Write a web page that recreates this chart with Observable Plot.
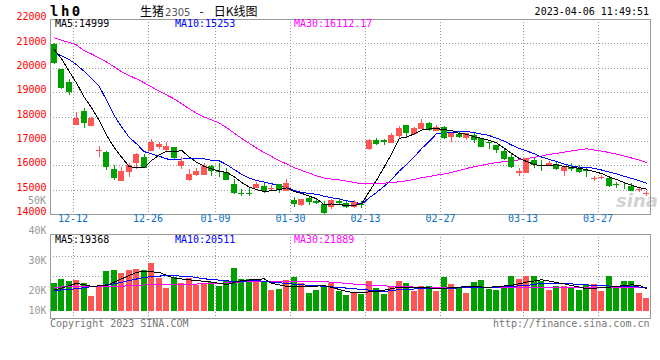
<!DOCTYPE html>
<html><head><meta charset="utf-8">
<script src="https://cdn.jsdelivr.net/npm/d3@7"></script>
<script src="https://cdn.jsdelivr.net/npm/@observablehq/plot@0.6"></script>
<style>
html,body{margin:0;padding:0;background:#fff;}
#wrap{position:relative;width:660px;height:360px;overflow:hidden;font-family:"DejaVu Sans Mono",monospace;}
#wrap svg{position:absolute;left:0;top:0;}
#wrap svg rect,#wrap svg line,#wrap svg path{shape-rendering:crispEdges;}
.t{position:absolute;white-space:pre;line-height:1;}
</style></head><body><div id="wrap"></div>
<script>
// ---- price data (index = trading day, oldest first) ----
const open  = [20980,19950,19430,17650,18240,17620,16600,16550,15830,15370,15740,16080,16340,16600,16740,16630,16740,15970,15400,15600,15600,15970,15750,15710,15230,14870,14850,15080,15160,15030,15230,14960,14570,14370,14640,14540,14410,14300,14530,14440,14270,14420,16670,17030,17020,16930,17200,17650,17280,17490,17720,17420,17580,17170,17270,17130,17240,17100,16960,16830,16580,16350,15700,15700,16210,15990,16010,16050,15760,15910,15900,15810,15450,15490,15460,15240,15160,15160,14980,14840];
const high  = [21000,19960,19530,18200,18360,17960,16800,16580,16010,15920,16100,16520,16460,17070,16970,16940,16750,16350,15830,15900,16100,15990,16100,15900,15420,15010,15120,15310,15280,15190,15240,15440,14680,14620,14750,14670,14530,14600,14640,14530,14570,14550,17060,17130,17080,17310,17610,17660,17580,17890,17780,17650,17600,17330,17400,17330,17330,17110,16970,16850,16650,16460,15870,16310,16280,16210,16170,16150,15960,16080,16010,15870,15560,15600,15530,15300,15260,15260,15080,14950];
const low   = [20150,19130,18880,17640,17540,17610,16350,15800,15400,15360,15530,15830,15890,16590,16650,16560,16240,15830,15350,15570,15590,15560,15530,15390,14830,14750,14750,15070,14880,14940,14850,14950,14290,14340,14370,14410,14000,14190,14410,14260,14260,14260,16620,16830,16830,16920,17110,17170,17230,17480,17400,17410,17080,16970,17100,17040,16920,16750,16650,16520,16220,15900,15560,15690,15900,15780,15970,15820,15560,15760,15700,15510,15370,15440,15090,15080,15010,14930,14890,14740];
const close = [20180,19180,19020,17950,17750,17930,16640,15910,15490,15760,16010,16460,15900,16970,16860,16800,16310,16190,15640,15760,15970,15780,15720,15400,14850,14810,14830,15220,14950,15080,14990,15260,14410,14600,14490,14470,14030,14570,14470,14300,14500,14380,17040,16870,16960,17240,17520,17310,17520,17750,17450,17580,17110,17310,17170,17310,17040,16760,16920,16630,16260,15940,15760,16280,16010,15960,16080,15850,15940,15860,15740,15770,15490,15530,15160,15200,15140,14960,15010,14860];
const ma5   = [20770,20380,19870,19375,18816,18366,17858,17236,16744,16346,15962,15926,15924,16220,16440,16598,16568,16626,16360,16140,15974,15868,15774,15726,15544,15312,15122,15022,14932,14978,15014,15100,14938,14868,14750,14646,14400,14432,14406,14368,14374,14444,14938,15418,15950,16498,17126,17180,17310,17468,17510,17522,17482,17440,17324,17296,17188,17118,17040,16932,16722,16502,16302,16174,16050,15990,16018,16036,15968,15938,15894,15832,15760,15678,15542,15434,15308,15202,15098,15038];
const ma10  = [20627,20512,20360,20134,19867,19580,19252,18677,18062,17581,17164,16892,16580,16482,16393,16280,16247,16275,16290,16290,16286,16218,16200,16043,15842,15643,15495,15398,15329,15261,15163,15111,14980,14900,14864,14830,14750,14685,14637,14559,14510,14422,14685,14912,15159,15436,15785,16059,16364,16709,17004,17324,17331,17375,17396,17403,17355,17300,17240,17128,17009,16845,16710,16607,16491,16356,16260,16169,16071,15994,15942,15925,15898,15823,15738,15662,15568,15479,15386,15286];
const ma30  = [21250,21150,21060,20950,20720,20580,20420,20250,20060,19850,19700,19560,19400,19230,19060,18900,18740,18540,18340,18150,18000,17880,17750,17560,17340,17120,16920,16720,16540,16377,16204,16074,15920,15808,15700,15584,15497,15453,15419,15370,15320,15250,15288,15285,15288,15303,15343,15381,15443,15510,15559,15619,15665,15729,15806,15890,15963,16015,16080,16132,16174,16197,16242,16298,16349,16398,16467,16509,16558,16610,16652,16698,16646,16602,16542,16474,16394,16316,16232,16136];
// ---- volume (K, as read against the panel's labels) ----
const volume = [22.4,23.8,23.1,23.3,22.4,17.2,21.3,26.4,26.8,25.8,26.8,27.1,26.8,29.1,24.1,20.8,24.4,22.4,24.1,21.8,22.4,22.8,21.4,23.1,27.4,23.8,23.8,23.4,23.1,20.1,20.4,23.4,24.4,22.4,18.7,20.1,21.1,22.4,19.7,17.6,18.7,18.2,23.1,20.8,18.2,21.4,23.1,22.4,19.7,21.4,21.4,19.7,24.4,22.1,20.8,18.7,22.8,23.4,20.4,20.1,21.4,24.8,23.8,24.8,24.8,23.1,20.1,21.4,21.4,21.1,20.1,21.9,21.9,19.7,24.8,21.4,23.1,23.1,18.7,16.3];
const volMa5Idx  = [0,1,3,5,7,9,11,12,14,15,16,19,21,23,25,28,29,31,34,36,39,40,43,46,49,51,55,58,61,63,65,68,71,74,77,78,79];
const volMa5     = [20.2,20.8,22.4,21.4,21.7,23.9,26.1,26.3,26.1,25.0,24.1,23.3,22.8,22.0,23.3,23.9,22.4,21.4,21.2,21.7,19.5,18.9,19.5,21.1,21.1,20.6,21.3,21.1,21.7,22.8,23.6,22.2,20.6,21.1,21.9,21.7,20.6];
const volMa10Idx = [0,3,5,8,10,12,15,18,20,24,27,29,33,36,40,44,46,49,55,59,63,65,69,72,76,79];
const volMa10    = [20.0,20.6,21.3,22.2,23.3,24.4,25.0,24.7,23.9,23.0,23.3,22.8,21.9,21.4,20.6,19.5,20.3,20.6,20.9,21.1,21.7,22.4,22.2,21.7,21.3,21.1];
const volMa30Idx = [0,4,8,13,17,22,26,31,35,37,41,46,50,55,59,64,68,72,79];
const volMa30    = [21.1,21.4,21.3,22.0,22.0,22.4,23.0,23.1,23.0,22.8,21.9,21.3,21.0,20.9,21.0,21.1,21.1,21.1,21.1];
// ---- axes ----
const tickLabels = ["12-12","12-26","01-09","01-30","02-13","02-27","03-13","03-27"];
const tickIndex  = [2,12,21,31,41,51,62,72];
const priceTicks = [22000,21000,20000,19000,18000,17000,16000,15000,14000];
const priceGrid  = [15000,16000,17000,18000,19000,20000,21000];
const volTicks   = [10,20,30,40];
const volTickPos = [10,17.76,29.01,40];   // where Sina's uneven volume labels sit on the panel
const volGrid    = [31.5,24.8];
const volBase    = 10;
// ---- texts ----
const symbol = "lh0";
const titleName = "生猪", titleCode = "2305", titleDash = "-", titleTail = "日K线图";
const stamp = "2023-04-06 11:49:51";
const priceLegend = [["MA5:14999","#000"],["MA10:15253","#0000ff"],["MA30:16112.17","#ff00ff"]];
const volLegend   = [["MA5:19368","#000"],["MA10:20511","#0000ff"],["MA30:21889","#ff00ff"]];

const UP = "#ff5555", DN = "#00a000", GRID = "#9a9a9a", FRAME = "#999";
const FONT = "DejaVu Sans Mono";
const N = open.length;
const candles = open.map((o, i) => ({i, o, h: high[i], l: low[i], c: close[i], v: volume[i], col: close[i] >= o ? UP : DN}));
const series = arr => arr.map((v, i) => ({i, v}));
const pts = (idx, vals) => idx.map((i, k) => ({i, v: vals[k]}));
const ticks = tickLabels.map((t, k) => ({t, i: tickIndex[k] + 0.5}));
const xDom = [-0.5, N - 0.5];
const volWarp = d3.scaleLinear().domain(volTicks).range(volTickPos);

const main = Plot.plot({
  width: 660, height: 230, marginLeft: 50, marginRight: 10, marginTop: 19, marginBottom: 16,
  style: {background: "transparent", overflow: "visible"},
  x: {domain: xDom, axis: null},
  y: {domain: [14000, 22000], axis: null},
  color: {type: "identity"},
  marks: [
    Plot.ruleY(priceGrid, {stroke: GRID, strokeDasharray: "1,2"}),
    Plot.ruleX(ticks, {x: "i", stroke: GRID, strokeDasharray: "1,2"}),
    Plot.frame({stroke: FRAME}),
    Plot.line(series(ma30), {x: "i", y: "v", stroke: "#ff00ff", strokeWidth: 1}),
    Plot.line(series(ma10), {x: "i", y: "v", stroke: "#0000ff", strokeWidth: 1}),
    Plot.ruleX(candles, {x: "i", y1: "l", y2: "h", stroke: "col", strokeWidth: 1}),
    Plot.rect(candles, {x1: d => d.i - 0.4, x2: d => d.i + 0.4, y1: "o", y2: "c", fill: "col"}),
    Plot.line(series(ma5), {x: "i", y: "v", stroke: "#000", strokeWidth: 1}),
    Plot.text(priceTicks, {y: d => d, text: d => String(d), frameAnchor: "left", dx: -4, dy: -2.5, textAnchor: "end", fill: "#f00", fontSize: 10, fontFamily: FONT}),
    Plot.text(ticks, {x: "i", text: "t", frameAnchor: "bottom", dy: 7, fill: "#0a6fc2", fontSize: 10, fontFamily: FONT})
  ]
});

const vol = Plot.plot({
  width: 660, height: 360, marginLeft: 50, marginRight: 10, marginTop: 234, marginBottom: 42,
  style: {background: "transparent", overflow: "visible"},
  x: {domain: xDom, axis: null},
  y: {type: "linear", domain: [10, 40], range: [310.7, 230.7], transform: v => volWarp(v), axis: null},
  color: {type: "identity"},
  marks: [
    Plot.ruleY(volGrid, {stroke: GRID, strokeDasharray: "1,2"}),
    Plot.ruleX(ticks, {x: "i", stroke: GRID, strokeDasharray: "1,2"}),
    Plot.frame({stroke: FRAME}),
    Plot.rect(candles, {x1: d => d.i - 0.4, x2: d => d.i + 0.4, y1: d => volBase, y2: "v", fill: "col"}),
    Plot.line(pts(volMa30Idx, volMa30), {x: "i", y: "v", stroke: "#ff00ff", strokeWidth: 1}),
    Plot.line(pts(volMa10Idx, volMa10), {x: "i", y: "v", stroke: "#0000ff", strokeWidth: 1}),
    Plot.line(pts(volMa5Idx, volMa5), {x: "i", y: "v", stroke: "#000", strokeWidth: 1}),
    Plot.text(volTicks, {y: d => d, text: d => d + "K", frameAnchor: "left", dx: -4, textAnchor: "end", fill: "#999", fontSize: 10, fontFamily: FONT})
  ]
});

const wrap = document.getElementById("wrap");
wrap.appendChild(main);
wrap.appendChild(vol);

function label(html, x, yc, size, opts = {}) {
  const d = document.createElement("div");
  d.className = "t";
  d.innerHTML = html;
  d.style.fontSize = size + "px";
  d.style.top = (yc - size * 0.5) + "px";
  if (opts.right != null) d.style.right = (660 - opts.right) + "px"; else d.style.left = x + "px";
  if (opts.color) d.style.color = opts.color;
  if (opts.font) d.style.fontFamily = opts.font;
  if (opts.weight) d.style.fontWeight = opts.weight;
  if (opts.style) d.style.fontStyle = opts.style;
  if (opts.ls) d.style.letterSpacing = opts.ls;
  wrap.appendChild(d);
  return d;
}
label(symbol, 50, 11, 14, {weight: "bold", ls: "2.5px", color: "#000"});
label(`<span style="font-family:'Noto Sans CJK SC'">${titleName}</span><span style="color:#555;font-family:'DejaVu Sans';font-size:10px;margin-left:1px">${titleCode}</span><span style="font-family:'Noto Sans CJK SC';margin-left:9px">${titleDash}</span><span style="font-family:'Noto Sans CJK SC';margin-left:10px">${titleTail}</span>`, 140, 10.5, 12, {color: "#000"});
label(stamp, 0, 12, 10, {right: 649, color: "#000"});
const legendX = [55, 175, 294];
priceLegend.forEach(([t, c], k) => label(t, legendX[k], 24, 10, {color: c}));
volLegend.forEach(([t, c], k) => label(t, legendX[k], 239.5, 10, {color: c}));
label("50K", 0, 200.5, 10, {right: 46, color: "#999"});
label("Copyright 2023 SINA.COM", 50, 324, 10, {color: "#777"});
label("http://finance.sina.com.cn", 0, 324, 10, {right: 649.5, color: "#777"});
label("sina", 616, 201, 18, {font: "DejaVu Sans", weight: "bold", style: "italic", color: "rgba(150,150,150,0.45)"});
</script></body></html>
